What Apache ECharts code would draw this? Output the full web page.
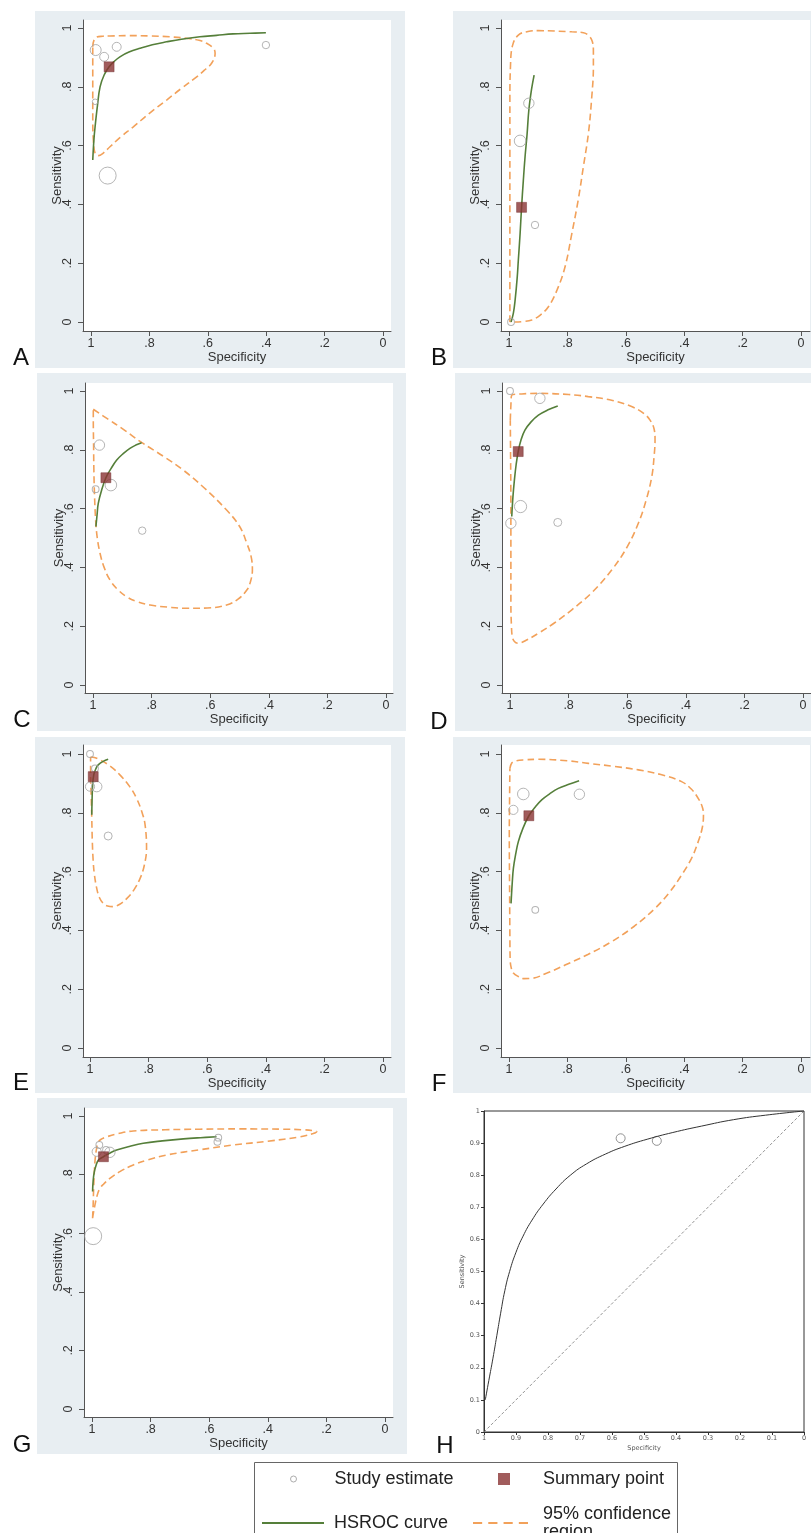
<!DOCTYPE html>
<html><head><meta charset="utf-8">
<script src="https://cdn.jsdelivr.net/npm/echarts@6.0.0/dist/echarts.min.js"></script>
<style>html,body{margin:0;padding:0;background:#fff}#c{width:811px;height:1533px}</style>
</head><body><div id="c"></div>
<script>
// ---------------- data ----------------
const panelLetters = ['A','B','C','D','E','F','G','H'];
const stataTicks = [0, 0.2, 0.4, 0.6, 0.8, 1];
const legendNames = ['Study estimate', 'Summary point', 'HSROC curve', '95% confidence region'];

// study estimates: [specificity, sensitivity, relative weight]
const studyA = [[0.984,0.925,0.5],[0.955,0.902,0.33],[0.912,0.936,0.33],[0.986,0.749,0.05],[0.943,0.498,1.0],[0.401,0.942,0.2]];
const summaryA = [[0.938,0.868]];
const curveA = [[0.994,0.551],[0.990,0.62],[0.986,0.664],[0.978,0.735],[0.969,0.80],[0.955,0.840],[0.938,0.868],[0.920,0.887],[0.901,0.902],[0.870,0.918],[0.832,0.931],[0.790,0.943],[0.741,0.953],[0.690,0.962],[0.627,0.970],[0.570,0.975],[0.513,0.980],[0.455,0.982],[0.401,0.984]];
const regionA = [[0.994,0.936],[0.986,0.965],[0.960,0.972],[0.935,0.973],[0.870,0.974],[0.798,0.973],[0.730,0.970],[0.673,0.965],[0.630,0.958],[0.604,0.948],[0.580,0.930],[0.575,0.914],[0.587,0.880],[0.610,0.858],[0.638,0.834],[0.690,0.795],[0.741,0.755],[0.800,0.710],[0.855,0.664],[0.900,0.628],[0.935,0.596],[0.960,0.573],[0.975,0.566],[0.986,0.574],[0.992,0.619],[0.994,0.700],[0.994,0.800],[0.994,0.868],[0.994,0.936]];

const studyB = [[0.932,0.744,0.45],[0.962,0.616,0.55],[0.911,0.330,0.2],[0.993,0.0,0.15]];
const summaryB = [[0.957,0.390]];
const curveB = [[0.993,0.0],[0.985,0.03],[0.979,0.075],[0.972,0.15],[0.968,0.211],[0.962,0.30],[0.957,0.39],[0.951,0.48],[0.945,0.562],[0.938,0.64],[0.932,0.721],[0.923,0.79],[0.914,0.840]];
const regionB = [[0.997,0.0],[0.997,0.2],[0.997,0.5],[0.997,0.75],[0.995,0.868],[0.988,0.94],[0.968,0.976],[0.935,0.988],[0.900,0.991],[0.785,0.987],[0.745,0.984],[0.728,0.975],[0.715,0.955],[0.711,0.920],[0.711,0.868],[0.717,0.76],[0.728,0.642],[0.745,0.53],[0.763,0.415],[0.785,0.30],[0.808,0.188],[0.835,0.11],[0.865,0.052],[0.895,0.022],[0.922,0.007],[0.950,0.002],[0.979,0.0],[0.997,0.0]];

const studyC = [[0.978,0.816,0.45],[0.991,0.666,0.15],[0.939,0.680,0.55],[0.832,0.525,0.2]];
const summaryC = [[0.956,0.705]];
const curveC = [[0.990,0.539],[0.986,0.58],[0.982,0.618],[0.970,0.665],[0.956,0.705],[0.938,0.737],[0.919,0.765],[0.897,0.787],[0.874,0.805],[0.854,0.816],[0.834,0.824]];
const regionC = [[0.999,0.938],[0.95,0.905],[0.90,0.872],[0.834,0.825],[0.76,0.778],[0.692,0.731],[0.62,0.67],[0.544,0.595],[0.50,0.54],[0.475,0.482],[0.460,0.435],[0.456,0.391],[0.463,0.350],[0.475,0.323],[0.505,0.292],[0.544,0.272],[0.61,0.262],[0.680,0.261],[0.745,0.265],[0.805,0.272],[0.850,0.284],[0.885,0.300],[0.915,0.324],[0.942,0.357],[0.962,0.400],[0.976,0.448],[0.986,0.505],[0.991,0.561],[0.995,0.65],[0.997,0.731],[0.998,0.82],[0.999,0.90],[0.999,0.938]];

const studyD = [[1.0,1.0,0.15],[0.898,0.975,0.45],[0.964,0.607,0.6],[0.997,0.550,0.45],[0.837,0.553,0.25]];
const summaryD = [[0.972,0.794]];
const curveD = [[0.994,0.573],[0.990,0.64],[0.985,0.697],[0.979,0.75],[0.972,0.794],[0.962,0.835],[0.949,0.867],[0.928,0.895],[0.903,0.918],[0.870,0.936],[0.837,0.949]];
const regionD = [[0.999,0.90],[0.997,0.95],[0.994,0.986],[0.96,0.990],[0.903,0.992],[0.80,0.988],[0.733,0.981],[0.65,0.968],[0.585,0.947],[0.545,0.925],[0.522,0.901],[0.508,0.870],[0.505,0.833],[0.508,0.78],[0.516,0.709],[0.535,0.63],[0.562,0.550],[0.60,0.47],[0.653,0.391],[0.72,0.315],[0.790,0.255],[0.850,0.210],[0.903,0.176],[0.945,0.152],[0.972,0.142],[0.985,0.148],[0.992,0.164],[0.995,0.20],[0.997,0.278],[0.997,0.45],[0.997,0.617],[0.998,0.78],[0.999,0.90]];

const studyE = [[1.0,1.0,0.15],[0.983,0.951,0.15],[1.0,0.889,0.35],[0.977,0.889,0.45],[0.938,0.721,0.25]];
const summaryE = [[0.989,0.923]];
const curveE = [[0.994,0.793],[0.993,0.84],[0.991,0.895],[0.987,0.930],[0.980,0.950],[0.972,0.963],[0.955,0.975],[0.938,0.982]];
const regionE = [[0.998,0.99],[0.985,0.988],[0.966,0.980],[0.93,0.958],[0.898,0.929],[0.865,0.89],[0.841,0.849],[0.822,0.80],[0.812,0.759],[0.807,0.679],[0.815,0.62],[0.829,0.577],[0.850,0.538],[0.874,0.509],[0.900,0.488],[0.920,0.481],[0.940,0.483],[0.955,0.492],[0.968,0.512],[0.977,0.543],[0.985,0.59],[0.989,0.634],[0.992,0.70],[0.994,0.782],[0.996,0.86],[0.998,0.93],[0.998,0.99]];

const studyF = [[0.985,0.810,0.35],[0.951,0.864,0.55],[0.759,0.863,0.45],[0.910,0.470,0.15]];
const summaryF = [[0.932,0.790]];
const curveF = [[0.993,0.492],[0.989,0.56],[0.985,0.611],[0.977,0.66],[0.968,0.702],[0.952,0.748],[0.932,0.790],[0.910,0.820],[0.888,0.844],[0.860,0.865],[0.831,0.883],[0.795,0.897],[0.760,0.909]];
const regionF = [[0.997,0.951],[0.990,0.970],[0.979,0.976],[0.950,0.980],[0.900,0.982],[0.80,0.977],[0.728,0.968],[0.640,0.958],[0.557,0.946],[0.48,0.930],[0.409,0.906],[0.375,0.88],[0.352,0.849],[0.338,0.82],[0.334,0.793],[0.338,0.75],[0.352,0.702],[0.375,0.645],[0.409,0.588],[0.45,0.53],[0.500,0.475],[0.57,0.415],[0.648,0.362],[0.73,0.318],[0.808,0.282],[0.870,0.255],[0.922,0.237],[0.950,0.236],[0.968,0.243],[0.985,0.255],[0.992,0.271],[0.996,0.30],[0.997,0.384],[0.998,0.55],[0.999,0.724],[0.998,0.85],[0.997,0.951]];

const studyG = [[0.996,0.590,1.0],[0.975,0.901,0.15],[0.984,0.878,0.35],[0.939,0.876,0.45],[0.952,0.884,0.15],[0.569,0.926,0.15],[0.572,0.912,0.15]];
const summaryG = [[0.961,0.861]];
const curveG = [[0.998,0.742],[0.996,0.78],[0.992,0.810],[0.986,0.832],[0.978,0.850],[0.961,0.861],[0.940,0.873],[0.916,0.884],[0.87,0.897],[0.825,0.907],[0.76,0.915],[0.688,0.922],[0.63,0.926],[0.575,0.929]];
const regionG = [[0.998,0.651],[0.996,0.70],[0.994,0.765],[0.992,0.81],[0.990,0.844],[0.985,0.885],[0.978,0.912],[0.965,0.923],[0.950,0.929],[0.91,0.940],[0.859,0.949],[0.75,0.953],[0.631,0.955],[0.50,0.956],[0.347,0.955],[0.28,0.953],[0.245,0.950],[0.233,0.947],[0.245,0.940],[0.290,0.929],[0.40,0.914],[0.518,0.901],[0.63,0.885],[0.745,0.867],[0.81,0.850],[0.859,0.833],[0.905,0.810],[0.939,0.787],[0.960,0.768],[0.973,0.753],[0.983,0.727],[0.990,0.696],[0.995,0.670],[0.998,0.651]];

const studyH = [[0.573,0.915],[0.460,0.907]];
const curveH = [[0.996,0.10],[0.985,0.16],[0.972,0.23],[0.960,0.30],[0.948,0.37],[0.935,0.44],[0.920,0.50],[0.900,0.56],[0.878,0.61],[0.850,0.66],[0.815,0.71],[0.775,0.757],[0.730,0.800],[0.680,0.835],[0.620,0.866],[0.560,0.890],[0.490,0.912],[0.410,0.933],[0.320,0.953],[0.220,0.973],[0.120,0.987],[0.0,1.0]];
const chanceH = [[1,0],[0,1]];

const studies = [studyA, studyB, studyC, studyD, studyE, studyF, studyG];
const summaries = [summaryA, summaryB, summaryC, summaryD, summaryE, summaryF, summaryG];
const curves = [curveA, curveB, curveC, curveD, curveE, curveF, curveG];
const regions = [regionA, regionB, regionC, regionD, regionE, regionF, regionG];

// ---------------- layout (pixels) ----------------
const layout = [
  {box:[83,20,391,331],   px:[91,383],  py:[28,322],    bg:[35,11,405,368],    letter:[21,358]},
  {box:[501,20,810,331],  px:[509,801], py:[28,322],    bg:[453,11,811,368],   letter:[439,358]},
  {box:[85,383,393,693],  px:[93,386],  py:[391,685],   bg:[37,373,406,731],   letter:[22,720]},
  {box:[502,383,811,693], px:[510,803], py:[391,685],   bg:[455,373,811,731],  letter:[439,722]},
  {box:[83,745,391,1057], px:[90,383],  py:[754,1048],  bg:[35,737,405,1093],  letter:[21,1083]},
  {box:[501,745,810,1057],px:[509,801], py:[754,1048],  bg:[453,737,811,1093], letter:[439,1084]},
  {box:[84,1108,393,1417],px:[92,385],  py:[1116,1409], bg:[37,1098,407,1454], letter:[22,1445]},
  {box:[484,1111,804,1432],px:[484,804],py:[1111,1432], bg:null,               letter:[445,1446]}
];

const GREEN = '#557f3a', ORANGE = '#f2a15a', MAROON = '#8a3333', CIRCLE = '#a2a2a2', AXIS = '#555', TXT = '#333';
const FONT = '"Liberation Sans", Arial, Helvetica, sans-serif';

function stataFmt(v) {
  if (Math.abs(v) < 1e-9) return '0';
  if (Math.abs(v - 1) < 1e-9) return '1';
  return '.' + Math.round(v * 10);
}
function tenthFmt(v) {
  if (Math.abs(v) < 1e-9) return '0';
  if (Math.abs(v - 1) < 1e-9) return '1';
  return v.toFixed(1);
}

const grids = [], xAxes = [], yAxes = [], series = [], graphics = [];

layout.forEach((L, i) => {
  const [l, t, r, b] = L.box;
  const sx = L.px[1] - L.px[0], sy = L.py[1] - L.py[0];
  const xMax = 1 + (L.px[0] - l) / sx, xMin = -(r - L.px[1]) / sx;
  const yMax = 1 + (L.py[0] - t) / sy, yMin = -(b - L.py[1]) / sy;
  const isH = i === 7;
  grids.push({left: l, top: t, width: r - l, height: b - t, show: true,
    backgroundColor: '#fff', borderWidth: isH ? 1 : 0, borderColor: '#333', containLabel: false});
  if (L.bg) graphics.push({type: 'rect', z: -10, shape: {x: L.bg[0], y: L.bg[1], width: L.bg[2] - L.bg[0], height: L.bg[3] - L.bg[1]}, style: {fill: '#e8eef2'}});
  graphics.push({type: 'text', x: L.letter[0], y: L.letter[1], style: {text: panelLetters[i], fontSize: 24, fontFamily: FONT, fill: '#111', align: 'center', verticalAlign: 'middle'}});

  if (!isH) {
    xAxes.push({gridIndex: i, type: 'value', inverse: true, min: xMin, max: xMax,
      axisLine: {show: true, onZero: false, lineStyle: {color: AXIS, width: 1}},
      axisTick: {show: true, customValues: stataTicks, length: 5, lineStyle: {color: AXIS}},
      axisLabel: {customValues: stataTicks, formatter: stataFmt, color: TXT, fontSize: 12.5, margin: 6, fontFamily: FONT},
      splitLine: {show: false},
      name: 'Specificity', nameLocation: 'middle', nameGap: 20,
      nameTextStyle: {color: TXT, fontSize: 13, fontFamily: FONT}});
    yAxes.push({gridIndex: i, type: 'value', min: yMin, max: yMax,
      axisLine: {show: true, onZero: false, lineStyle: {color: AXIS, width: 1}},
      axisTick: {show: true, customValues: stataTicks, length: 5, lineStyle: {color: AXIS}},
      axisLabel: {customValues: stataTicks, formatter: stataFmt, color: TXT, fontSize: 12.5, margin: 9, rotate: 90, fontFamily: FONT},
      splitLine: {show: false},
      name: 'Sensitivity', nameLocation: 'middle', nameGap: 19, nameMoveOverlap: false,
      nameTextStyle: {color: TXT, fontSize: 13, fontFamily: FONT}});

    series.push({type: 'line', name: '95% confidence region', xAxisIndex: i, yAxisIndex: i,
      data: regions[i], symbol: 'none', smooth: 0.4, z: 3, silent: true,
      lineStyle: {color: ORANGE, width: 1.6, type: [7, 4]}});
    series.push({type: 'line', name: 'HSROC curve', xAxisIndex: i, yAxisIndex: i,
      data: curves[i], symbol: 'none', smooth: 0.4, z: 4, silent: true,
      lineStyle: {color: GREEN, width: 1.6}});
    series.push({type: 'scatter', name: 'Study estimate', xAxisIndex: i, yAxisIndex: i,
      data: studies[i], symbol: 'circle', symbolSize: d => 5 + 12 * d[2], z: 5,
      itemStyle: {color: 'rgba(255,255,255,0)', borderColor: CIRCLE, borderWidth: 1}});
    series.push({type: 'scatter', name: 'Summary point', xAxisIndex: i, yAxisIndex: i,
      data: summaries[i], symbol: 'rect', symbolSize: 10, z: 6,
      itemStyle: {color: MAROON, borderColor: '#6a2222', borderWidth: 0.5}});
  } else {
    xAxes.push({gridIndex: i, type: 'value', inverse: true, min: 0, max: 1, interval: 0.1,
      axisLine: {show: true, onZero: false, lineStyle: {color: '#333', width: 1}},
      axisTick: {show: true, length: 3, lineStyle: {color: '#333'}},
      axisLabel: {formatter: tenthFmt, color: '#555', fontSize: 6.5, margin: 3, fontFamily: '"DejaVu Sans", sans-serif'},
      splitLine: {show: false},
      name: 'Specificity', nameLocation: 'middle', nameGap: 13,
      nameTextStyle: {color: '#555', fontSize: 6.5, fontFamily: '"DejaVu Sans", sans-serif'}});
    yAxes.push({gridIndex: i, type: 'value', min: 0, max: 1, interval: 0.1,
      axisLine: {show: true, onZero: false, lineStyle: {color: '#333', width: 1}},
      axisTick: {show: true, length: 3, lineStyle: {color: '#333'}},
      axisLabel: {formatter: tenthFmt, color: '#555', fontSize: 6.5, margin: 4, fontFamily: '"DejaVu Sans", sans-serif'},
      splitLine: {show: false},
      name: 'Sensitivity', nameLocation: 'middle', nameGap: 17,
      nameTextStyle: {color: '#555', fontSize: 6.5, fontFamily: '"DejaVu Sans", sans-serif'}});
    series.push({type: 'line', name: 'Chance line', xAxisIndex: i, yAxisIndex: i,
      data: chanceH, symbol: 'none', silent: true,
      lineStyle: {color: '#777', width: 0.8, type: [3, 2]}});
    series.push({type: 'line', name: 'SROC curve', xAxisIndex: i, yAxisIndex: i,
      data: curveH, symbol: 'none', smooth: 0.5, silent: true,
      lineStyle: {color: '#333', width: 1}});
    series.push({type: 'scatter', name: 'Study estimate', xAxisIndex: i, yAxisIndex: i,
      data: studyH, symbol: 'circle', symbolSize: 9,
      itemStyle: {color: 'rgba(255,255,255,0)', borderColor: '#777', borderWidth: 1}});
  }
});

// legend frame
graphics.push({type: 'rect', z: -5, shape: {x: 254.5, y: 1462.5, width: 423, height: 100},
  style: {fill: '#fff', stroke: '#666', lineWidth: 1}});

const legendText = {color: '#222', fontSize: 18, fontFamily: FONT};
const legends = [
  {left: 290, top: 1470, itemWidth: 62, itemHeight: 6,
   data: [{name: legendNames[0], icon: 'circle', itemStyle: {color: '#fff', borderColor: '#999', borderWidth: 1}}],
   textStyle: Object.assign({padding: [0, 0, 0, 5]}, legendText)},
  {left: 498, top: 1470, itemWidth: 62, itemHeight: 12,
   data: [{name: legendNames[1], icon: 'path://M0,0H10V10H0Z', itemStyle: {color: MAROON, borderWidth: 0}}],
   textStyle: Object.assign({padding: [0, 0, 0, 3]}, legendText)},
  {left: 262, top: 1514, itemWidth: 62, itemHeight: 12,
   data: [{name: legendNames[2], icon: 'path://M0,0H62V2H0Z', itemStyle: {color: GREEN, borderWidth: 0}}],
   textStyle: Object.assign({padding: [0, 0, 0, 5]}, legendText)},
  {left: 473, top: 1505, itemWidth: 55, itemHeight: 12,
   formatter: () => '95% confidence\nregion',
   data: [{name: legendNames[3], icon: 'path://M0,0H9V2H0Z M15,0H24V2H15Z M30,0H39V2H30Z M45,0H54V2H45Z', itemStyle: {color: ORANGE, borderWidth: 0}}],
   textStyle: Object.assign({padding: [0, 0, 0, 10], lineHeight: 18}, legendText)}
].map(lg => Object.assign({padding: 0, selectedMode: false, orient: 'horizontal', symbolKeepAspect: true}, lg));

const chart = echarts.init(document.getElementById('c'), null, {renderer: 'canvas'});
chart.setOption({
  animation: false,
  backgroundColor: '#fff',
  textStyle: {fontFamily: FONT},
  grid: grids, xAxis: xAxes, yAxis: yAxes, series: series,
  legend: legends,
  graphic: {elements: graphics}
});
</script></body></html>
